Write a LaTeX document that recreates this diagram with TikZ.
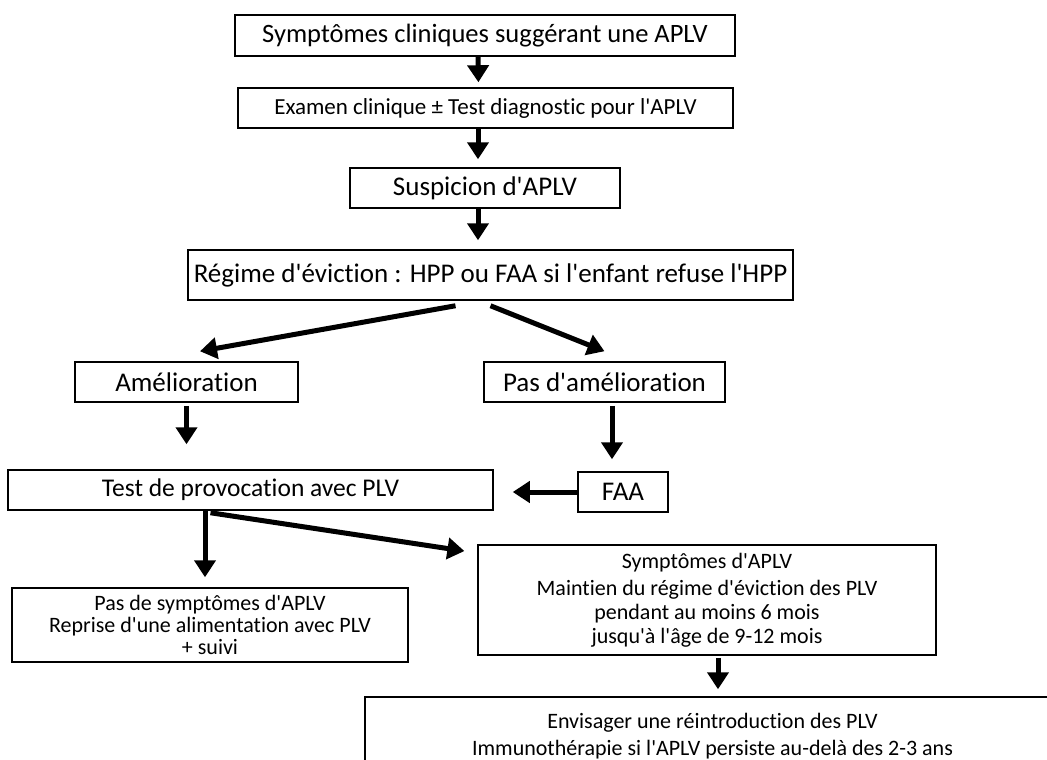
\documentclass[tikz,border=0pt]{standalone}
\usepackage{fontspec}
\setmainfont{Carlito}[Ligatures={TeXOff,NoCommon}]
\usetikzlibrary{arrows.meta}

\begin{document}
\begin{tikzpicture}[x=1pt,y=-1pt,
    box/.style={draw, line width=1.5pt, inner sep=0pt, align=center},
    bigarrow/.style={line width=5pt, -{Triangle[width=21pt,length=17pt]}}]
    \useasboundingbox (0,0) rectangle (1047,760);
    % Top of the chain
    \node[box, minimum width=500pt, minimum height=41pt, font=\fontsize{26.5}{31}\selectfont] (sympt) at (485,35.5) {Symptômes cliniques suggérant une APLV};
    \node[box, minimum width=495pt, minimum height=40pt, font=\fontsize{23}{27}\selectfont] (examen) at (485.5,108) {Examen clinique ± Test diagnostic pour l'APLV};
    \node[box, minimum width=270pt, minimum height=40pt, font=\fontsize{27}{32}\selectfont] (suspi) at (485,188) {Suspicion d'APLV};
    \node[box, minimum width=605pt, minimum height=50pt, font=\fontsize{27}{32}\selectfont] (regime) at (490.5,275) {Régime d'éviction : HPP ou FAA si l'enfant refuse l'HPP};
    \draw[bigarrow, shorten >=5pt] ([xshift=-7pt]sympt.south) -- ([xshift=-7pt]examen.north);
    \draw[bigarrow, shorten >=8pt] ([xshift=-7.5pt]examen.south) -- ([xshift=-7pt]suspi.north);
    \draw[bigarrow, shorten >=9pt] ([xshift=-7pt]suspi.south) -- ([xshift=-12.5pt]regime.north);
    % Two outcomes
    \node[box, minimum width=223pt, minimum height=40pt, font=\fontsize{27}{32}\selectfont] (amel) at (186.5,382) {Amélioration};
    \node[box, minimum width=241pt, minimum height=40pt, font=\fontsize{27}{32}\selectfont] (pasamel) at (604.5,382) {Pas d'amélioration};
    \draw[bigarrow] ([xshift=-35pt,yshift=-5pt]regime.south) -- ([xshift=13.5pt,yshift=10pt]amel.north);
    \draw[bigarrow] ([yshift=-5pt]regime.south) -- ([yshift=10pt]pasamel.north);
    % Provocation test
    \node[box, minimum width=485pt, minimum height=40pt, font=\fontsize{25.5}{30}\selectfont] (test) at (250.5,490) {Test de provocation avec PLV};
    \node[box, minimum width=90pt, minimum height=40pt, font=\fontsize{27}{32}\selectfont] (faa) at (623,492) {FAA};
    \draw[bigarrow, shorten <=3pt, shorten >=25pt] (amel.south) -- (amel.south |- test.north);
    \draw[bigarrow, shorten <=3pt, shorten >=12pt] ([xshift=7.5pt]pasamel.south) -- ([xshift=-11pt]faa.north);
    \draw[bigarrow, shorten >=19pt] (faa.west) -- (faa.west -| test.east);
    % Results of the test
    \node[box, minimum width=396pt, minimum height=74pt, font=\fontsize{22}{22}\selectfont] (passympt) at (210,625) {Pas de symptômes d'APLV\\Reprise d'une alimentation avec PLV\\+ suivi};
    \node[box, minimum width=458pt, minimum height=110pt, font=\fontsize{22}{24}\selectfont] (symptaplv) at (707,600) {Symptômes d'APLV\\[3pt]Maintien du régime d'éviction des PLV\\pendant au moins 6 mois\\jusqu'à l'âge de 9-12 mois};
    \draw[bigarrow, shorten >=10pt] ([xshift=-45.5pt]test.south) -- ([xshift=-5pt]passympt.north);
    \draw[bigarrow, shorten >=13pt] ([xshift=-40pt,yshift=-2pt]test.south) -- ([yshift=47pt]symptaplv.west);
    % Long term
    \node[box, minimum width=695pt, minimum height=78pt, font=\fontsize{22}{27}\selectfont] (envis) at (712.5,736) {Envisager une réintroduction des PLV\\Immunothérapie si l'APLV persiste au-delà des 2-3 ans};
    \draw[bigarrow, shorten <=2pt, shorten >=7pt] ([xshift=11pt]symptaplv.south) -- ([xshift=11pt]symptaplv.south |- envis.north);
\end{tikzpicture}
\end{document}
